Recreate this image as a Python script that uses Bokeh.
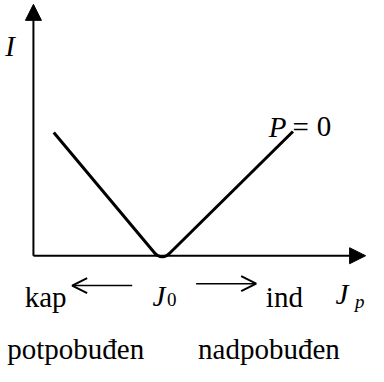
from bokeh.plotting import figure
from bokeh.models import Range1d, Arrow, NormalHead, OpenHead
from bokeh.core.properties import value
from bokeh.embed import file_html
from bokeh.resources import INLINE

# V-curve (schematic units): excitation current J_p vs armature current I
jp = [21, 125.6, 128, 130.4, 133, 135.6, 138, 140.4, 268]
cur = [128, 2.3, 0.3, -0.7, -1, -0.7, 0.3, 2.3, 129]

# labels
curve_label = "P"
curve_label_rest = ["=", "0"]
bottom_left = "kap"
bottom_right = "ind"
region_left = "potpobuđen"
region_right = "nadpobuđen"
x_name, x_sub = "J", "p"
y_name = "I"
min_name, min_sub = "J", "0"

FONT = value("Liberation Serif")

p = figure(width=368, height=366, output_backend="svg", toolbar_location=None,
           x_range=Range1d(-34, 346), y_range=Range1d(-115, 265),
           min_border=0)
p.axis.visible = False
p.grid.visible = False
p.outline_line_color = None
p.background_fill_color = "white"

# axes with arrowheads
p.add_layout(Arrow(x_start=0, y_start=0, x_end=0, y_end=261, line_width=2,
                   end=NormalHead(size=16, fill_color="black", line_color="black")))
p.add_layout(Arrow(x_start=0, y_start=0, x_end=343, y_end=0, line_width=2,
                   end=NormalHead(size=16, fill_color="black", line_color="black")))

# V curve
p.line(jp, cur, line_width=3, color="black", line_join="round")

# direction arrows
p.add_layout(Arrow(x_start=102, y_start=-31, x_end=40, y_end=-31, line_width=1.5,
                   end=OpenHead(size=15, line_width=2)))
p.add_layout(Arrow(x_start=168, y_start=-29, x_end=230, y_end=-29, line_width=1.5,
                   end=OpenHead(size=15, line_width=2)))

def txt(x, y, s, size="29px", style="normal", align="left"):
    p.text(x=[x], y=[y], text=[s], text_font=FONT, text_font_size=size,
           text_font_style=style, text_align=align, text_baseline="alphabetic",
           text_color="black")

txt(-29, 218, y_name, style="italic")
txt(-9, -43, bottom_left)
txt(123, -42, min_name, style="italic")
txt(138, -45, min_sub, size="19px")
txt(240, -43, bottom_right)
txt(312, -40, x_name, style="italic")
txt(332, -48, x_sub, size="19px", style="italic")
txt(-27, -97, region_left)
txt(170, -97, region_right)
txt(243, 134, curve_label, style="italic")
txt(276, 134, curve_label_rest[0], align="center")
txt(300, 134, curve_label_rest[1], align="center")

open("out.html", "w").write(file_html(p, INLINE))
